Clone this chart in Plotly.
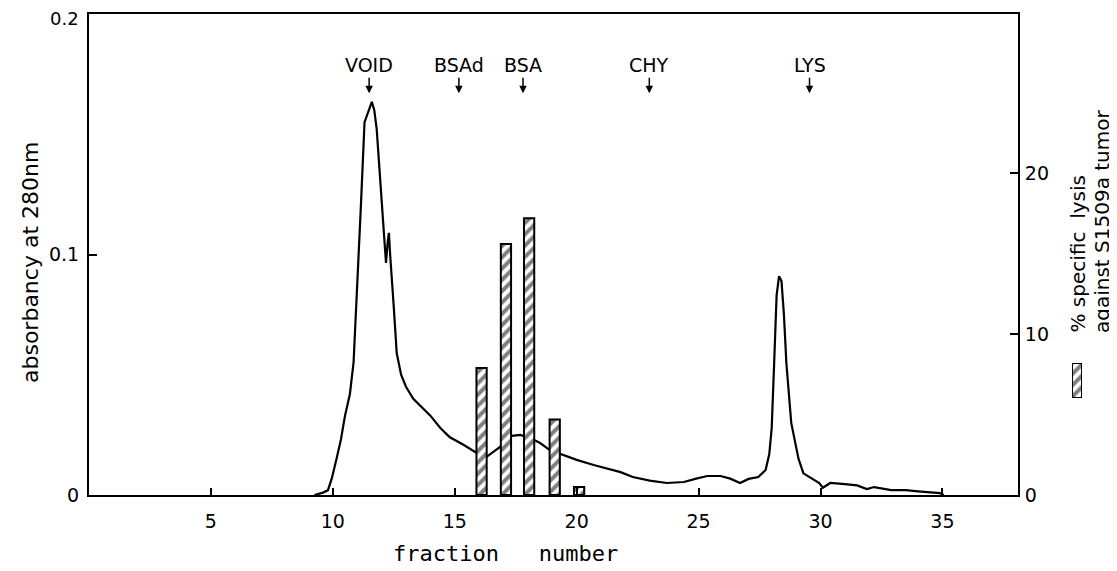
import plotly.graph_objects as go

# ---- data ----
fraction = [9.25, 9.6, 9.8, 9.96, 10.15, 10.33, 10.5, 10.7, 10.85, 11.0, 11.15, 11.3, 11.4, 11.5,
            11.6, 11.7, 11.8, 11.95, 12.05, 12.18, 12.25, 12.3, 12.35, 12.41, 12.5, 12.62, 12.8,
            13.0, 13.3, 13.7, 14.0, 14.4, 14.8, 15.34, 15.9, 16.32, 16.6, 16.86, 17.27, 17.68,
            18.1, 18.5, 18.9, 19.45, 20.0, 20.7, 21.3, 21.8, 22.3, 23.0, 23.7, 24.4, 24.9, 25.36,
            25.9, 26.3, 26.7, 27.05, 27.45, 27.75, 27.9, 28.0, 28.1, 28.2, 28.3, 28.4, 28.5, 28.6,
            28.8, 28.95, 29.1, 29.3, 29.6, 29.95, 30.1, 30.4, 31.0, 31.5, 31.9, 32.2, 32.9, 33.5,
            34.0, 34.6, 34.9, 35.05]
absorbance = [0.0, 0.001, 0.002, 0.007, 0.015, 0.023, 0.033, 0.042, 0.055, 0.085, 0.12, 0.155,
              0.158, 0.161, 0.1635, 0.16, 0.152, 0.13, 0.114, 0.0965, 0.105, 0.109, 0.1, 0.092,
              0.078, 0.059, 0.05, 0.045, 0.04, 0.036, 0.033, 0.028, 0.024, 0.021, 0.0175, 0.016,
              0.018, 0.02, 0.0245, 0.025, 0.0237, 0.0216, 0.0187, 0.0166, 0.0146, 0.0125, 0.011,
              0.0095, 0.0075, 0.006, 0.005, 0.0054, 0.0068, 0.0079, 0.0079, 0.0068, 0.005, 0.0067,
              0.0075, 0.0104, 0.017, 0.028, 0.055, 0.083, 0.091, 0.089, 0.075, 0.055, 0.03, 0.022,
              0.015, 0.009, 0.007, 0.005, 0.003, 0.005, 0.0045, 0.004, 0.0025, 0.0033, 0.002,
              0.002, 0.0015, 0.0012, 0.0008, 0.0]

lysis_fraction = [16.1, 17.1, 18.05, 19.1, 20.1]
lysis_percent = [7.9, 15.6, 17.2, 4.7, 0.5]

marker_labels = ["VOID", "BSAd", "BSA", "CHY", "LYS"]
marker_fraction = [11.49, 15.17, 17.8, 22.98, 29.55]

x_ticks = [5, 10, 15, 20, 25, 30, 35]
left_ticks = [0, 0.1, 0.2]
left_ticktext = ["0", "0.1", ""]   # top label "0.2" is drawn as text just below the page edge
top_left_label = "0.2"
right_ticks = [0, 10, 20]

FONT = "DejaVu Sans"
BLACK = "#000000"
HATCH = dict(shape="/", fgcolor=BLACK, bgcolor="white", size=8, solidity=0.5)

fig = go.Figure()

fig.add_trace(go.Bar(
    x=lysis_fraction, y=lysis_percent, yaxis="y2", width=0.42,
    marker=dict(color="white", line=dict(color=BLACK, width=2), pattern=HATCH),
    name="% specific lysis", showlegend=False))

fig.add_trace(go.Scatter(
    x=fraction, y=absorbance, mode="lines",
    line=dict(color=BLACK, width=2.2), name="absorbancy", showlegend=False))

# legend key (hatched box) on its own small axis
fig.add_trace(go.Bar(
    x=[0], y=[1], xaxis="x3", yaxis="y3", width=1,
    marker=dict(color="white", line=dict(color=BLACK, width=2), pattern=HATCH),
    showlegend=False, hoverinfo="skip"))

# page body has an 8px margin: work in page pixels, convert to figure pixels
OFF = 8
W, H = 1117 - OFF, 571 - OFF
ML, MR, MT, MB = 89 - OFF, 2, 14 - OFF, 571 - 495
PW = W - ML - MR
PH = H - MT - MB
def px(xpage):
    return (xpage - OFF - ML) / PW
def py(ypage):
    return (H - MB - (ypage - OFF)) / PH

axis_common = dict(showline=True, linecolor=BLACK, linewidth=2, ticks="inside",
                   tickcolor=BLACK, tickwidth=2, showgrid=False, zeroline=False,
                   automargin=False, ticklabeloverflow="allow",
                   tickfont=dict(family=FONT, size=19, color=BLACK))

fig.update_layout(
    width=W, height=H,
    margin=dict(l=ML, r=MR, t=MT, b=MB, autoexpand=False),
    plot_bgcolor="white", paper_bgcolor="white",
    showlegend=False, barmode="overlay",
    xaxis=dict(domain=[0, px(1018)], range=[0, 38.1], tickvals=x_ticks, ticklen=7,
               mirror=True, ticklabelstandoff=8, **axis_common),
    yaxis=dict(range=[0, 0.2], tickvals=left_ticks, ticktext=left_ticktext, ticklen=8,
               ticklabelstandoff=4, **axis_common),
    yaxis2=dict(range=[0, 29.9], tickvals=right_ticks, ticklen=8, overlaying="y",
                side="right", anchor="x", ticklabelstandoff=1, **axis_common),
    xaxis3=dict(domain=[px(1072), px(1082)], range=[-0.5, 0.5], visible=False, anchor="y3"),
    yaxis3=dict(domain=[py(398), py(363)], range=[0, 1], visible=False, anchor="x3"),
)

annotations = []
for lab, fx in zip(marker_labels, marker_fraction):
    annotations.append(dict(
        x=fx, y=0.167, xref="x", yref="y", text=lab, showarrow=True,
        ax=0, ay=-28, arrowhead=2, arrowsize=1, arrowwidth=1.5, arrowcolor=BLACK,
        font=dict(family=FONT, size=19, color=BLACK)))

annotations += [
    dict(x=px(81), y=py(19), xref="paper", yref="paper", text=top_left_label,
         showarrow=False, xanchor="right", yanchor="middle",
         font=dict(family=FONT, size=18, color=BLACK)),
    dict(x=px(30), y=py(263), xref="paper", yref="paper", text="absorbancy at 280nm",
         textangle=-90, showarrow=False, xanchor="center", yanchor="middle",
         font=dict(family=FONT, size=22, color=BLACK)),
    dict(x=px(505), y=py(553), xref="paper", yref="paper", text="fraction   number",
         showarrow=False, xanchor="center", yanchor="middle",
         font=dict(family="DejaVu Sans Mono", size=22, color=BLACK)),
    dict(x=px(1077), y=py(335), xref="paper", yref="paper", text="% specific  lysis",
         textangle=-90, showarrow=False, xanchor="center", yanchor="bottom",
         font=dict(family=FONT, size=20, color=BLACK)),
    dict(x=px(1102), y=py(335), xref="paper", yref="paper", text="against S1509a tumor",
         textangle=-90, showarrow=False, xanchor="center", yanchor="bottom",
         font=dict(family=FONT, size=20, color=BLACK)),
]
fig.update_layout(annotations=annotations)

fig.write_html("out.html")
